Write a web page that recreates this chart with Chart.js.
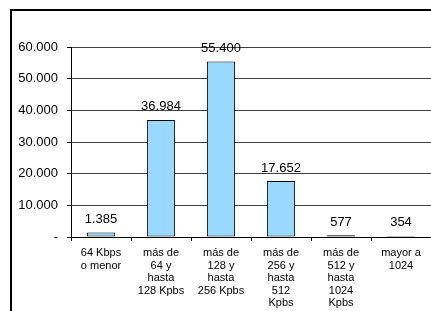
<!DOCTYPE html>
<html>
<head>
<meta charset="utf-8">
<script src="https://cdn.jsdelivr.net/npm/chart.js@4/dist/chart.umd.min.js"></script>
<style>
html,body{margin:0;padding:0;background:#fff;}
#wrap{position:absolute;left:0;top:0;width:431px;height:311px;}
</style>
</head>
<body>
<div id="wrap"><canvas id="c" width="431" height="311"></canvas></div>
<script>
const categories = [
  ["64 Kbps", "o menor"],
  ["más de", "64 y", "hasta", "128 Kpbs"],
  ["más de", "128 y", "hasta", "256 Kpbs"],
  ["más de", "256 y", "hasta", "512", "Kpbs"],
  ["más de", "512 y", "hasta", "1024", "Kpbs"],
  ["mayor a", "1024"]
];
const values = [1385, 36984, 55400, 17652, 577, 354];
const valueLabels = ["1.385", "36.984", "55.400", "17.652", "577", "354"];
const yTickValues = [0, 10000, 20000, 30000, 40000, 50000, 60000];
const yTickLabels = ["-", "10.000", "20.000", "30.000", "40.000", "50.000", "60.000"];

const FONT = "'Liberation Sans', Arial, sans-serif";

const framePlugin = {
  id: 'frame',
  afterDraw(chart) {
    const ctx = chart.ctx;
    ctx.save();
    ctx.fillStyle = '#000';
    ctx.fillRect(10, 9, 2, 302);
    ctx.fillRect(10, 9, 421, 2);
    ctx.restore();
  }
};

const labelPlugin = {
  id: 'vlabels',
  afterDatasetsDraw(chart) {
    const ctx = chart.ctx;
    const meta = chart.getDatasetMeta(0);
    ctx.save();
    ctx.font = "13px " + FONT;
    ctx.fillStyle = '#000';
    ctx.textAlign = 'center';
    ctx.textBaseline = 'middle';
    meta.data.forEach((bar, i) => {
      ctx.fillText(valueLabels[i], bar.x, bar.y - 13);
    });
    ctx.restore();
  }
};

new Chart(document.getElementById('c'), {
  type: 'bar',
  data: {
    labels: categories,
    datasets: [{
      data: values,
      backgroundColor: '#99d9ff',
      borderColor: '#000',
      borderWidth: 1,
      borderSkipped: false,
      barPercentage: 0.47,
      categoryPercentage: 1
    }]
  },
  options: {
    responsive: false,
    animation: false,
    events: [],
    layout: { padding: { top: 47, left: 0, right: 0, bottom: 0 } },
    plugins: { legend: { display: false }, tooltip: { enabled: false } },
    scales: {
      x: {
        offset: true,
        grid: { display: true, drawOnChartArea: false, drawTicks: true, tickLength: 4, color: '#000', offset: true },
        border: { display: true, color: '#000', width: 1 },
        ticks: {
          color: '#000', padding: 6, maxRotation: 0, autoSkip: false,
          font: { family: FONT, size: 11, lineHeight: 1.14 }
        },
        afterFit(scale) { scale.height = 74; }
      },
      y: {
        min: 0, max: 60000,
        afterBuildTicks(scale) { scale.ticks = yTickValues.map(v => ({ value: v })); },
        grid: { color: '#404040', tickColor: '#000', tickLength: 4, drawTicks: true },
        border: { display: true, color: '#000', width: 1 },
        ticks: {
          color: '#000', padding: 9,
          font: { family: FONT, size: 13 },
          callback(value) {
            const i = yTickValues.indexOf(value);
            return i >= 0 ? yTickLabels[i] : '';
          }
        },
        afterFit(scale) { scale.width = 71; }
      }
    }
  },
  plugins: [labelPlugin, framePlugin]
});
</script>
</body>
</html>
